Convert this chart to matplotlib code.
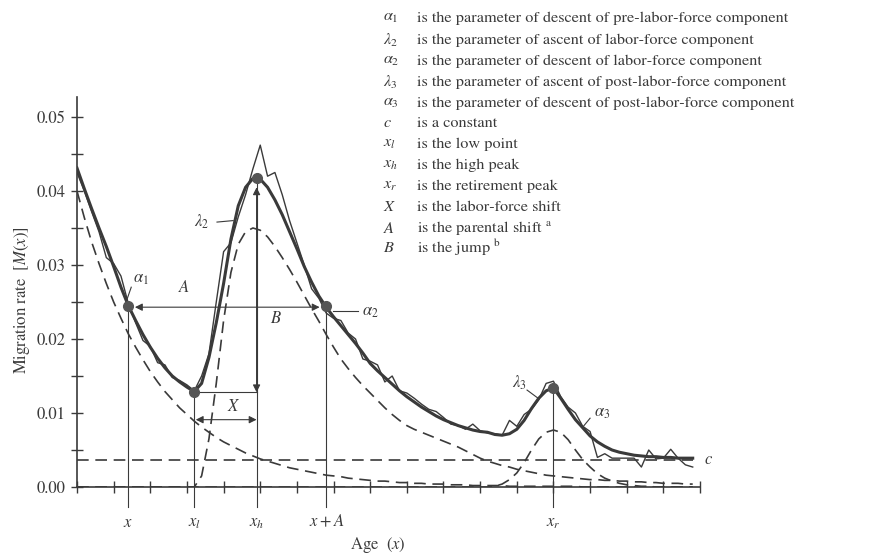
import matplotlib
matplotlib.use("Agg")
import matplotlib.pyplot as plt
import numpy as np

plt.rcParams['font.family'] = ['STIXGeneral', 'DejaVu Serif']
plt.rcParams['mathtext.fontset'] = 'stix'

ink = "#3a3a3a"

# ages 0..84, one value per year
ages = np.arange(0, 85)

observed = [0.0425, 0.0400, 0.0372, 0.0345, 0.0310, 0.0302, 0.0285, 0.0248, 0.0222, 0.0198,
            0.0190, 0.0168, 0.0165, 0.0148, 0.0144, 0.0138, 0.0130, 0.0150, 0.0180, 0.0250,
            0.0318, 0.0330, 0.0365, 0.0395, 0.0430, 0.0462, 0.0420, 0.0425, 0.0395, 0.0360,
            0.0330, 0.0300, 0.0268, 0.0255, 0.0235, 0.0228, 0.0225, 0.0208, 0.0200, 0.0173,
            0.0170, 0.0165, 0.0142, 0.0150, 0.0130, 0.0127, 0.0120, 0.0112, 0.0105, 0.0102,
            0.0094, 0.0085, 0.0083, 0.0078, 0.0085, 0.0076, 0.0073, 0.0072, 0.0070, 0.0090,
            0.0082, 0.0098, 0.0105, 0.0118, 0.0140, 0.0143, 0.0122, 0.0108, 0.0100, 0.0082,
            0.0075, 0.0040, 0.0045, 0.0039, 0.0039, 0.0039, 0.0039, 0.0027, 0.0050, 0.0038,
            0.0039, 0.0051, 0.0039, 0.0030, 0.0027]

fitted = [0.0431, 0.0403, 0.0376, 0.0350, 0.0325, 0.0298, 0.0270, 0.0245, 0.0225, 0.0206,
          0.0189, 0.0174, 0.0161, 0.0150, 0.0142, 0.0135, 0.0129, 0.0140, 0.0175, 0.0222,
          0.0275, 0.0335, 0.0380, 0.0405, 0.0417, 0.0416, 0.0405, 0.0388, 0.0368, 0.0345,
          0.0322, 0.0298, 0.0277, 0.0258, 0.0243, 0.0230, 0.0218, 0.0206, 0.0194, 0.0181,
          0.0167, 0.0157, 0.0148, 0.0139, 0.0130, 0.0122, 0.0115, 0.0108, 0.0102, 0.0096,
          0.0091, 0.0087, 0.0083, 0.0080, 0.0077, 0.0075, 0.0074, 0.0071, 0.0070, 0.0072,
          0.0078, 0.0090, 0.0106, 0.0120, 0.0130, 0.0134, 0.0120, 0.0105, 0.0091, 0.0080,
          0.0069, 0.0061, 0.0055, 0.0050, 0.0047, 0.0045, 0.0043, 0.0042, 0.0041, 0.0041,
          0.0040, 0.0040, 0.0039, 0.0039, 0.0039]

pre_labor = [0.0400, 0.0364, 0.0331, 0.0302, 0.0275, 0.0250, 0.0228, 0.0207, 0.0189, 0.0172,
             0.0156, 0.0142, 0.0129, 0.0118, 0.0107, 0.0098, 0.0089, 0.0081, 0.0074, 0.0067,
             0.0061, 0.0056, 0.0051, 0.0046, 0.0042, 0.0038, 0.0035, 0.0032, 0.0029, 0.0026,
             0.0024, 0.0022, 0.0020, 0.0018, 0.0016, 0.0015, 0.0014, 0.0012, 0.0011, 0.0010,
             0.0009, 0.0008, 0.0008, 0.0007, 0.0006, 0.0006, 0.0005, 0.0005, 0.0004, 0.0004,
             0.0004, 0.0003, 0.0003, 0.0003, 0.0002, 0.0002, 0.0002, 0.0002, 0.0002, 0.0001,
             0.0001, 0.0001, 0.0001, 0.0001, 0.0001, 0.0001, 0.0001, 0.0001, 0.0001, 0.0000,
             0.0000, 0.0000, 0.0000, 0.0000, 0.0000, 0.0000, 0.0000, 0.0000, 0.0000, 0.0000,
             0.0000, 0.0000, 0.0000, 0.0000, 0.0000]

labor = [0.0, 0.0, 0.0, 0.0, 0.0, 0.0, 0.0, 0.0, 0.0, 0.0,
         0.0, 0.0, 0.0, 0.0, 0.0, 0.0, 0.0000, 0.0015, 0.0065, 0.0140,
         0.0225, 0.0290, 0.0328, 0.0345, 0.0350, 0.0347, 0.0338, 0.0325, 0.0310, 0.0294,
         0.0277, 0.0259, 0.0241, 0.0224, 0.0206, 0.0189, 0.0173, 0.0160, 0.0148, 0.0137,
         0.0127, 0.0117, 0.0107, 0.0098, 0.0090, 0.0083, 0.0078, 0.0074, 0.0070, 0.0066,
         0.0062, 0.0058, 0.0054, 0.0049, 0.0044, 0.0039, 0.0035, 0.0032, 0.0029, 0.0027,
         0.0024, 0.0022, 0.0020, 0.0018, 0.0016, 0.0015, 0.0014, 0.0013, 0.0012, 0.0011,
         0.0010, 0.0010, 0.0009, 0.0009, 0.0008, 0.0008, 0.0007, 0.0007, 0.0006, 0.0006,
         0.0005, 0.0005, 0.0005, 0.0004, 0.0004]

retirement = [0.0] * 56 + [0.0000, 0.0001, 0.0004, 0.0010, 0.0019, 0.0033, 0.0050, 0.0065, 0.0074,
                           0.0077, 0.0074, 0.0064, 0.0050, 0.0037, 0.0027, 0.0018, 0.0012, 0.0008,
                           0.0005, 0.0003, 0.0002, 0.0001, 0.0001, 0.0000, 0.0000, 0.0000, 0.0000,
                           0.0000, 0.0000]

c_level = 0.0036

# key ages and the heights they mark
x_age, x_l, x_h, x_A, x_r = 7, 16, 24.5, 34, 65
point_ages = [7, 16, 24.5, 34, 65]
point_vals = [0.0245, 0.0128, 0.0418, 0.0245, 0.0134]
x_shift_level = 0.0091

legend_syms = [r'$\alpha_1$', r'$\lambda_2$', r'$\alpha_2$', r'$\lambda_3$', r'$\alpha_3$', r'$c$',
               r'$x_l$', r'$x_h$', r'$x_r$', r'$X$', r'$A$', r'$B$']
legend_texts = ['is the parameter of descent of pre-labor-force component',
                'is the parameter of ascent of labor-force component',
                'is the parameter of descent of labor-force component',
                'is the parameter of ascent of post-labor-force component',
                'is the parameter of descent of post-labor-force component',
                'is a constant',
                'is the low point',
                'is the high peak',
                'is the retirement peak',
                'is the labor-force shift',
                r'is the parental shift $^{\mathrm{a}}$',
                r'is the jump $^{\mathrm{b}}$']

fig = plt.figure(figsize=(8.81, 5.54), dpi=100)
ax = fig.add_axes([0.0874, 0.1209, 0.7072, 0.704])

dash = (0, (7, 4))
ax.plot(ages, pre_labor, color=ink, lw=1.2, linestyle=dash)
ax.plot(ages, labor, color=ink, lw=1.2, linestyle=dash)
ax.plot(ages, retirement, color=ink, lw=1.2, linestyle=dash)
ax.plot([0, 84], [c_level, c_level], color=ink, lw=1.2, linestyle=dash)
ax.plot(ages, observed, color=ink, lw=1.0)
ax.plot(ages, fitted, color=ink, lw=2.2)

ax.plot(point_ages, point_vals, 'o', color="#555555", ms=7, zorder=5)

# vertical guide lines, running below the axis
for a, v in zip(point_ages, point_vals):
    ax.plot([a, a], [-0.0027, v], color=ink, lw=0.8, clip_on=False)
ax.plot([x_l, x_h], [0.0128, 0.0128], color=ink, lw=0.8)

arrow = dict(arrowstyle='<|-|>', color=ink, lw=0.8, mutation_scale=11, shrinkA=0, shrinkB=0)
ax.annotate('', xy=(x_age + 0.9, 0.0243), xytext=(x_A - 0.9, 0.0243), arrowprops=arrow)
ax.annotate('', xy=(x_l + 0.2, x_shift_level), xytext=(x_h, x_shift_level), arrowprops=arrow)
ax.annotate('', xy=(x_h, 0.0128), xytext=(x_h, 0.0405), arrowprops=arrow)

tf = dict(fontsize=12, color=ink)
ax.text(13.8, 0.0264, r'$A$', **tf)
ax.text(26.3, 0.0222, r'$B$', **tf)
ax.text(20.5, 0.0103, r'$X$', **tf)
ax.text(85.6, 0.0036, r'$c$', va='center', **tf)

# leader labels
lead = dict(color=ink, lw=0.8)
ax.plot([6.8, 7.4], [0.0253, 0.0270], **lead)
ax.text(7.7, 0.0276, r'$\alpha_1$', **tf)
ax.plot([19.1, 21.3], [0.0358, 0.0360], **lead)
ax.text(16.0, 0.0352, r'$\lambda_2$', **tf)
ax.plot([34.9, 38.3], [0.0238, 0.0238], **lead)
ax.text(38.9, 0.0232, r'$\alpha_2$', **tf)
ax.plot([61.4, 62.9], [0.0131, 0.0120], **lead)
ax.text(59.4, 0.0135, r'$\lambda_3$', **tf)
ax.plot([69.0, 70.0], [0.0081, 0.0093], **lead)
ax.text(70.6, 0.0095, r'$\alpha_3$', **tf)

# age labels under the guide lines
for a, s in zip(point_ages, [r'$x$', r'$x_l$', r'$x_h$', r'$x + A$', r'$x_r$']):
    ax.text(a, -0.0048, s, ha='center', va='center', fontsize=12, color=ink)
ax.text(41, -0.0079, r'Age  $(x)$', ha='center', va='center', fontsize=12, color=ink)

ax.set_xlim(0, 85)
ax.set_ylim(0, 0.0527)
ax.set_xticks(np.arange(0, 86, 5))
ax.set_xticklabels([])
ax.set_yticks([0, 0.01, 0.02, 0.03, 0.04, 0.05])
ax.set_yticklabels(['0.00', '0.01', '0.02', '0.03', '0.04', '0.05'])
ax.set_yticks(np.arange(0.005, 0.0527, 0.01), minor=True)
ax.tick_params(axis='both', which='both', direction='inout', color=ink, width=1.0, labelsize=12,
               labelcolor=ink)
ax.tick_params(axis='both', which='major', length=9)
ax.tick_params(axis='y', which='minor', length=9)
for side in ['top', 'right']:
    ax.spines[side].set_visible(False)
for side in ['left', 'bottom']:
    ax.spines[side].set_color(ink)
    ax.spines[side].set_linewidth(1.2)

fig.text(22 / 881, 1 - 300 / 554, r'Migration rate  $[M(x)]$', rotation=90, ha='center',
         va='center', fontsize=12, color=ink)

rows = [18, 40, 61, 82, 103, 123, 144, 165, 186, 207, 228, 248]
for py, sym, txt in zip(rows, legend_syms, legend_texts):
    fig.text(383 / 881, 1 - py / 554, sym, va='center', fontsize=11.7, color=ink)
    fig.text(417 / 881, 1 - py / 554, txt, va='center', fontsize=11.7, color=ink)

fig.savefig('out.png', dpi=100)
